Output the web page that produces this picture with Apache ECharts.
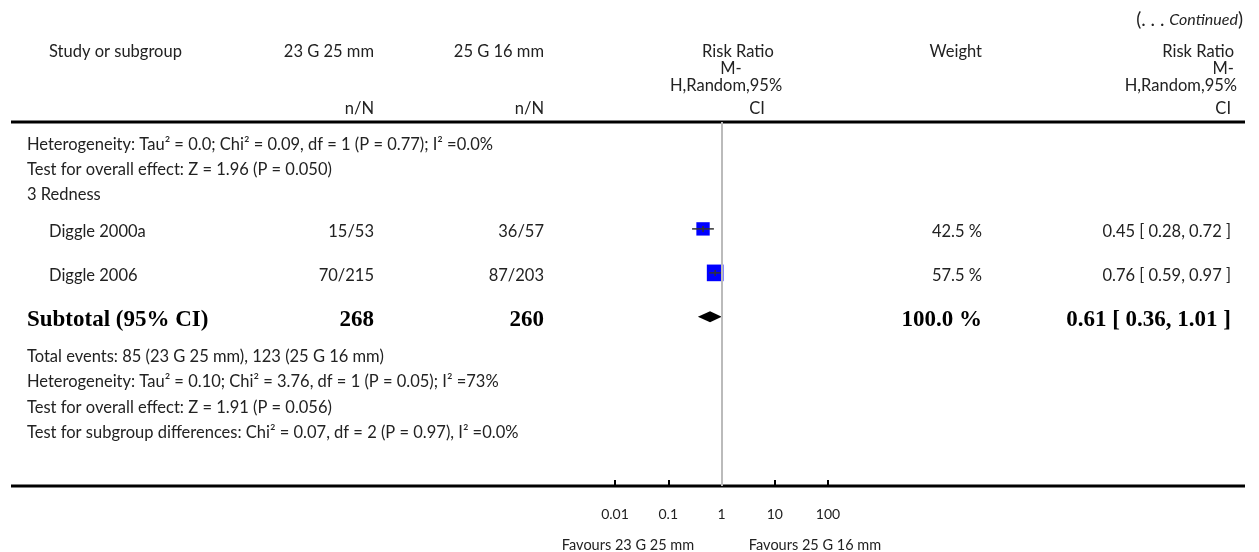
<!DOCTYPE html>
<html>
<head>
<meta charset="utf-8">
<script src="https://cdn.jsdelivr.net/npm/echarts@6/dist/echarts.min.js"></script>
<style>
  html, body { margin: 0; padding: 0; background: #fff; }
  #chart { width: 1259px; height: 552px; }
</style>
</head>
<body>
<div id="chart"></div>
<script>
  // values
  const studies = ['Diggle 2000a', 'Diggle 2006'];
  const eventsA = ['15/53', '70/215'];
  const eventsB = ['36/57', '87/203'];
  const ratios = [0.45, 0.76];
  const lower = [0.28, 0.59];
  const upper = [0.72, 0.97];
  const weights = [42.5, 57.5];
  const subtotalN = [268, 260];
  const subtotalCI = [0.61, 0.36, 1.01]; // rr, low, high
  const subtotalWeight = 100.0;
  const tickValues = [0.01, 0.1, 1, 10, 100];
  const notesTop = [
    'Heterogeneity: Tau\u00b2 = 0.0; Chi\u00b2 = 0.09, df = 1 (P = 0.77); I\u00b2 =0.0%',
    'Test for overall effect: Z = 1.96 (P = 0.050)',
    '3 Redness'
  ];
  const notesBottom = [
    'Total events: 85 (23 G 25 mm), 123 (25 G 16 mm)',
    'Heterogeneity: Tau\u00b2 = 0.10; Chi\u00b2 = 3.76, df = 1 (P = 0.05); I\u00b2 =73%',
    'Test for overall effect: Z = 1.91 (P = 0.056)',
    'Test for subgroup differences: Chi\u00b2 = 0.07, df = 2 (P = 0.97), I\u00b2 =0.0%'
  ];

  // layout (row slots in line units inside the plot band)
  const plotTop = 122, plotBottom = 486;
  const slotMax = 16.55;
  const topSlots = [1.05, 2.18, 3.32];
  const studySlots = [4.86, 6.86];
  const subtotalSlot = 8.86;
  const bottomSlots = [10.68, 11.82, 12.98, 14.12];

  const FONT = 'Lato, "Open Sans", sans-serif';
  const SERIF = '"Liberation Serif", "DejaVu Serif", serif';
  const INK = '#222';
  const fmt = v => v.toFixed(2);

  const chart = echarts.init(document.getElementById('chart'));

  chart.setOption({
    animation: false,
    grid: { left: 615, width: 213, top: plotTop, height: plotBottom - plotTop },
    xAxis: {
      type: 'log',
      logBase: 10,
      min: 0.01,
      max: 100,
      position: 'bottom',
      axisLine: { show: false, onZero: false },
      axisTick: { show: true, inside: true, length: 6, lineStyle: { color: '#000', width: 2 } },
      axisLabel: {
        margin: 21, fontSize: 14, color: INK, fontFamily: FONT,
        formatter: v => tickValues.find(t => Math.abs(t - v) < v * 1e-6) + ''
      },
      splitLine: { show: false }
    },
    yAxis: { type: 'value', inverse: true, min: 0, max: slotMax, show: false },
    series: [
      {
        type: 'scatter',
        symbol: 'rect',
        symbolSize: d => 4 + d[2] * 0.22,
        itemStyle: { color: '#0000ff', opacity: 1 },
        data: studies.map((s, i) => [ratios[i], studySlots[i], weights[i]]),
        z: 2,
        markLine: {
          silent: true,
          symbol: 'none',
          label: { show: false },
          lineStyle: { color: '#bbb', width: 2, type: 'solid' },
          data: [{ xAxis: 1 }]
        }
      },
      {
        type: 'custom',
        z: 3,
        data: studies.map((s, i) => [lower[i], upper[i], ratios[i], studySlots[i]]),
        renderItem: (params, api) => {
          const a = api.coord([api.value(0), api.value(3)]);
          const b = api.coord([api.value(1), api.value(3)]);
          const c = api.coord([api.value(2), api.value(3)]);
          const st = { stroke: '#333', lineWidth: 1.5 };
          return {
            type: 'group',
            children: [
              { type: 'line', shape: { x1: a[0], y1: a[1], x2: b[0], y2: b[1] }, style: st },
              { type: 'line', shape: { x1: c[0], y1: c[1] - 3, x2: c[0], y2: c[1] + 3 }, style: st }
            ]
          };
        }
      },
      {
        type: 'custom',
        z: 3,
        data: [[subtotalCI[1], subtotalCI[0], subtotalCI[2], subtotalSlot]],
        renderItem: (params, api) => {
          const l = api.coord([api.value(0), api.value(3)]);
          const m = api.coord([api.value(1), api.value(3)]);
          const r = api.coord([api.value(2), api.value(3)]);
          const h = 5.5;
          return {
            type: 'polygon',
            shape: { points: [[l[0], l[1]], [m[0], m[1] - h], [r[0], r[1]], [m[0], m[1] + h]] },
            style: { fill: '#000' }
          };
        }
      }
    ]
  });

  const rowY = s => chart.convertToPixel({ yAxisIndex: 0 }, s);
  const txt = (text, x, y, align, extra) => ({
    type: 'text', x: x, y: y, silent: true,
    style: Object.assign({
      text: text, align: align || 'left', verticalAlign: 'middle',
      font: '16.5px ' + FONT, fill: INK
    }, extra || {})
  });
  const bold = { font: 'bold 23px ' + SERIF, fill: '#000' };

  const left = 27, indent = 49;
  const colA = 374, colB = 544, wRight = 982, rrRight = 1231;
  const els = [];

  // headers
  els.push({
    type: 'text', x: 1243, y: 20, silent: true,
    style: {
      text: '{n|(. . . }{i|Continued}{n|)}', align: 'right', verticalAlign: 'middle',
      rich: {
        n: { fontFamily: FONT, fontSize: 19, fill: INK },
        i: { fontFamily: FONT, fontSize: 16, fontStyle: 'italic', fill: INK }
      }
    }
  });
  els.push(txt('Study or subgroup', indent, 52));
  els.push(txt('23 G 25 mm', colA, 52, 'right'));
  els.push(txt('25 G 16 mm', colB, 52, 'right'));
  els.push(txt('n/N', colA, 109, 'right'));
  els.push(txt('n/N', colB, 109, 'right'));
  els.push(txt('Risk Ratio', 738, 52, 'center'));
  els.push(txt('M-', 731, 69, 'center'));
  els.push(txt('H,Random,95%', 726, 86, 'center'));
  els.push(txt('CI', 757, 109, 'center'));
  els.push(txt('Weight', wRight, 52, 'right'));
  els.push(txt('Risk Ratio', rrRight + 3, 52, 'right'));
  els.push(txt('M-', rrRight + 3, 69, 'right'));
  els.push(txt('H,Random,95%', rrRight + 6, 86, 'right'));
  els.push(txt('CI', rrRight, 109, 'right'));

  // rules
  const rule = y => ({ type: 'line', silent: true, shape: { x1: 11, y1: y, x2: 1245, y2: y }, style: { stroke: '#000', lineWidth: 3 } });
  els.push(rule(plotTop), rule(plotBottom));

  notesTop.forEach((t, i) => els.push(txt(t, left, rowY(topSlots[i]))));
  studies.forEach((s, i) => {
    const y = rowY(studySlots[i]) + 3;
    els.push(txt(s, indent, y));
    els.push(txt(eventsA[i], colA, y, 'right'));
    els.push(txt(eventsB[i], colB, y, 'right'));
    els.push(txt(weights[i].toFixed(1) + ' %', wRight, y, 'right'));
    els.push(txt(fmt(ratios[i]) + ' [ ' + fmt(lower[i]) + ', ' + fmt(upper[i]) + ' ]', rrRight, y, 'right'));
  });
  const ys = rowY(subtotalSlot) + 3;
  els.push(txt('Subtotal (95% CI)', left, ys, 'left', bold));
  els.push(txt(String(subtotalN[0]), colA, ys, 'right', bold));
  els.push(txt(String(subtotalN[1]), colB, ys, 'right', bold));
  els.push(txt(subtotalWeight.toFixed(1) + ' %', wRight, ys, 'right', bold));
  els.push(txt(fmt(subtotalCI[0]) + ' [ ' + fmt(subtotalCI[1]) + ', ' + fmt(subtotalCI[2]) + ' ]', rrRight, ys, 'right', bold));
  notesBottom.forEach((t, i) => els.push(txt(t, left, rowY(bottomSlots[i]))));

  // favours labels under the axis
  els.push(txt('Favours 23 G 25 mm', 628, 545, 'center', { font: '14.5px ' + FONT }));
  els.push(txt('Favours 25 G 16 mm', 815, 545, 'center', { font: '14.5px ' + FONT }));

  chart.setOption({ graphic: { elements: els } });
</script>
</body>
</html>
